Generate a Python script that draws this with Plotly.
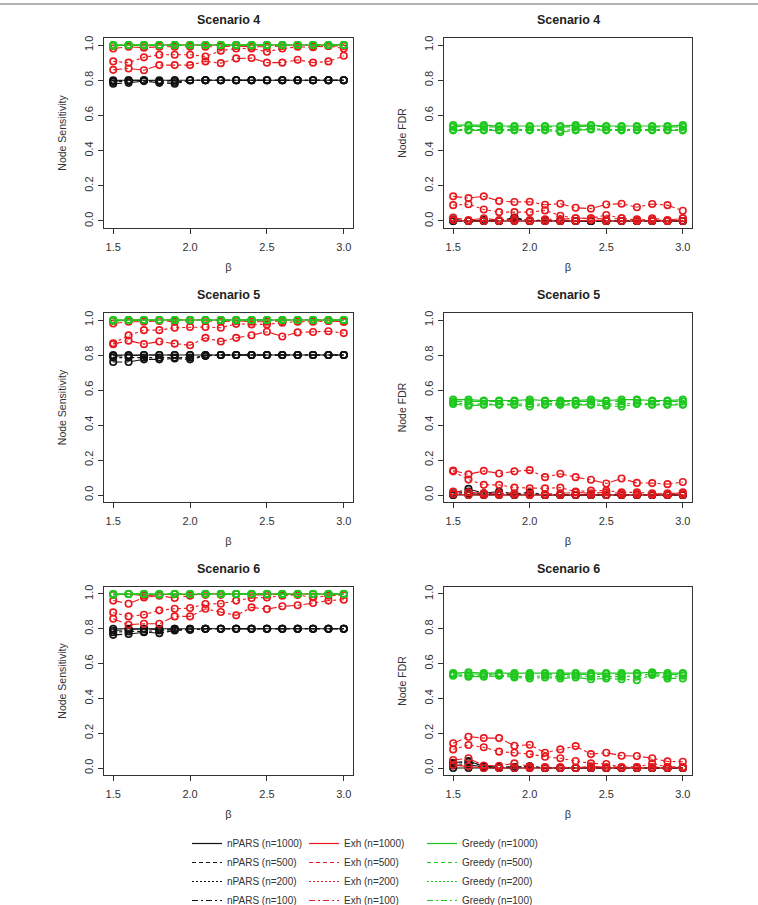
import plotly.graph_objects as go

# ---------------- data ----------------
beta = [1.5, 1.6, 1.7, 1.8, 1.9, 2.0, 2.1, 2.2, 2.3, 2.4, 2.5, 2.6, 2.7, 2.8, 2.9, 3.0]
x_ticks = [1.5, 2.0, 2.5, 3.0]
x_ticktext = ["1.5", "2.0", "2.5", "3.0"]
y_ticks = [0.0, 0.2, 0.4, 0.6, 0.8, 1.0]
y_ticktext = ["0.0", "0.2", "0.4", "0.6", "0.8", "1.0"]
sample_sizes = ["1000", "500", "200", "100"]
methods = ["nPARS", "Exh", "Greedy"]
panel_titles = ["Scenario 4", "Scenario 4", "Scenario 5", "Scenario 5", "Scenario 6", "Scenario 6"]
y_titles = ["Node Sensitivity", "Node FDR"]

# Scenario 4 - Node Sensitivity
s4_sens_npars_1000 = [0.80, 0.80, 0.80, 0.80, 0.80, 0.80, 0.80, 0.80, 0.80, 0.80, 0.80, 0.80, 0.80, 0.80, 0.80, 0.80]
s4_sens_npars_500 = [0.795, 0.80, 0.80, 0.795, 0.80, 0.80, 0.80, 0.80, 0.80, 0.80, 0.80, 0.80, 0.80, 0.80, 0.80, 0.80]
s4_sens_npars_200 = [0.79, 0.795, 0.80, 0.79, 0.79, 0.80, 0.80, 0.80, 0.80, 0.80, 0.80, 0.80, 0.80, 0.80, 0.80, 0.80]
s4_sens_npars_100 = [0.78, 0.785, 0.795, 0.785, 0.78, 0.80, 0.80, 0.80, 0.80, 0.80, 0.80, 0.80, 0.80, 0.80, 0.80, 0.80]
s4_sens_exh_1000 = [0.995, 1.0, 0.995, 1.0, 1.0, 1.0, 1.0, 1.0, 1.0, 1.0, 1.0, 1.0, 1.0, 1.0, 1.0, 1.0]
s4_sens_exh_500 = [0.98, 0.99, 0.985, 0.99, 0.99, 0.99, 0.99, 0.99, 0.995, 0.99, 0.99, 0.995, 0.995, 0.99, 0.995, 0.995]
s4_sens_exh_200 = [0.907, 0.90, 0.93, 0.945, 0.945, 0.945, 0.935, 0.968, 0.98, 0.98, 0.962, 0.98, 0.99, 0.987, 0.995, 0.98]
s4_sens_exh_100 = [0.859, 0.867, 0.857, 0.886, 0.886, 0.886, 0.907, 0.897, 0.924, 0.926, 0.90, 0.90, 0.916, 0.90, 0.907, 0.939]
s4_sens_greedy_1000 = [1.0, 1.0, 1.0, 1.0, 1.0, 1.0, 1.0, 1.0, 1.0, 1.0, 1.0, 1.0, 1.0, 1.0, 1.0, 1.0]
s4_sens_greedy_500 = [1.0, 1.0, 1.0, 1.0, 1.0, 1.0, 1.0, 1.0, 1.0, 1.0, 1.0, 1.0, 1.0, 1.0, 1.0, 1.0]
s4_sens_greedy_200 = [0.998, 1.0, 1.0, 1.0, 1.0, 1.0, 1.0, 1.0, 1.0, 1.0, 1.0, 1.0, 1.0, 1.0, 1.0, 1.0]
s4_sens_greedy_100 = [0.996, 1.0, 0.998, 1.0, 1.0, 1.0, 1.0, 1.0, 1.0, 0.998, 1.0, 1.0, 1.0, 1.0, 1.0, 1.0]

# Scenario 4 - Node FDR
s4_fdr_npars_1000 = [0.0, 0.0, 0.0, 0.0, 0.0, 0.0, 0.0, 0.0, 0.0, 0.0, 0.0, 0.0, 0.0, 0.0, 0.0, 0.0]
s4_fdr_npars_500 = [0.0, 0.0, 0.0, 0.0, 0.01, 0.0, 0.0, 0.0, 0.0, 0.0, 0.0, 0.0, 0.0, 0.0, 0.0, 0.0]
s4_fdr_npars_200 = [0.005, 0.0, 0.0, 0.0, 0.015, 0.0, 0.005, 0.0, 0.0, 0.0, 0.0, 0.0, 0.0, 0.0, 0.0, 0.0]
s4_fdr_npars_100 = [0.01, 0.0, 0.005, 0.0, 0.02, 0.0, 0.005, 0.0, 0.0, 0.0, 0.0, 0.0, 0.0, 0.0, 0.0, 0.0]
s4_fdr_exh_1000 = [0.005, 0.0, 0.0, 0.0, 0.0, 0.0, 0.0, 0.0, 0.0, 0.005, 0.0, 0.0, 0.0, 0.0, 0.0, 0.0]
s4_fdr_exh_500 = [0.02, 0.005, 0.015, 0.005, 0.01, 0.005, 0.01, 0.01, 0.015, 0.015, 0.01, 0.015, 0.01, 0.015, 0.005, 0.015]
s4_fdr_exh_200 = [0.09, 0.095, 0.065, 0.05, 0.05, 0.05, 0.06, 0.03, 0.015, 0.015, 0.034, 0.015, 0.005, 0.01, 0.0, 0.015]
s4_fdr_exh_100 = [0.14, 0.13, 0.14, 0.113, 0.108, 0.109, 0.092, 0.098, 0.075, 0.07, 0.094, 0.098, 0.078, 0.096, 0.09, 0.058]
s4_fdr_greedy_1000 = [0.545, 0.545, 0.545, 0.54, 0.54, 0.54, 0.54, 0.54, 0.545, 0.545, 0.54, 0.54, 0.54, 0.54, 0.54, 0.545]
s4_fdr_greedy_500 = [0.535, 0.54, 0.535, 0.535, 0.535, 0.535, 0.535, 0.535, 0.535, 0.54, 0.535, 0.535, 0.535, 0.535, 0.535, 0.535]
s4_fdr_greedy_200 = [0.52, 0.52, 0.52, 0.52, 0.52, 0.52, 0.52, 0.515, 0.52, 0.525, 0.52, 0.52, 0.52, 0.52, 0.52, 0.52]
s4_fdr_greedy_100 = [0.515, 0.515, 0.515, 0.515, 0.515, 0.515, 0.515, 0.505, 0.515, 0.52, 0.515, 0.515, 0.515, 0.515, 0.515, 0.515]

# Scenario 5 - Node Sensitivity
s5_sens_npars_1000 = [0.80, 0.80, 0.80, 0.80, 0.80, 0.80, 0.80, 0.80, 0.80, 0.80, 0.80, 0.80, 0.80, 0.80, 0.80, 0.80]
s5_sens_npars_500 = [0.795, 0.795, 0.80, 0.80, 0.80, 0.80, 0.80, 0.80, 0.80, 0.80, 0.80, 0.80, 0.80, 0.80, 0.80, 0.80]
s5_sens_npars_200 = [0.785, 0.785, 0.785, 0.785, 0.785, 0.785, 0.795, 0.80, 0.80, 0.80, 0.80, 0.80, 0.80, 0.80, 0.80, 0.80]
s5_sens_npars_100 = [0.76, 0.76, 0.775, 0.775, 0.78, 0.775, 0.795, 0.80, 0.80, 0.80, 0.80, 0.80, 0.80, 0.80, 0.80, 0.80]
s5_sens_exh_1000 = [0.995, 1.0, 1.0, 1.0, 1.0, 1.0, 1.0, 1.0, 1.0, 1.0, 1.0, 1.0, 1.0, 1.0, 1.0, 1.0]
s5_sens_exh_500 = [0.98, 0.99, 0.99, 0.995, 0.99, 0.995, 0.995, 0.99, 0.995, 0.99, 0.99, 0.995, 0.995, 0.995, 0.995, 0.99]
s5_sens_exh_200 = [0.867, 0.912, 0.942, 0.942, 0.956, 0.96, 0.96, 0.956, 0.978, 0.975, 0.975, 0.985, 0.99, 0.99, 0.995, 0.99]
s5_sens_exh_100 = [0.862, 0.882, 0.862, 0.877, 0.865, 0.856, 0.898, 0.877, 0.898, 0.913, 0.933, 0.906, 0.929, 0.931, 0.936, 0.925]
s5_sens_greedy_1000 = [1.0, 1.0, 1.0, 1.0, 1.0, 1.0, 1.0, 1.0, 1.0, 1.0, 1.0, 1.0, 1.0, 1.0, 1.0, 1.0]
s5_sens_greedy_500 = [1.0, 1.0, 1.0, 1.0, 1.0, 1.0, 1.0, 1.0, 1.0, 1.0, 1.0, 1.0, 1.0, 1.0, 1.0, 1.0]
s5_sens_greedy_200 = [0.998, 1.0, 1.0, 1.0, 1.0, 1.0, 1.0, 1.0, 1.0, 1.0, 1.0, 1.0, 1.0, 1.0, 1.0, 1.0]
s5_sens_greedy_100 = [0.996, 0.998, 1.0, 1.0, 1.0, 1.0, 1.0, 1.0, 1.0, 1.0, 1.0, 1.0, 1.0, 1.0, 1.0, 1.0]

# Scenario 5 - Node FDR
s5_fdr_npars_1000 = [0.0, 0.0, 0.0, 0.0, 0.0, 0.0, 0.0, 0.0, 0.0, 0.0, 0.0, 0.0, 0.0, 0.0, 0.0, 0.0]
s5_fdr_npars_500 = [0.0, 0.01, 0.0, 0.005, 0.0, 0.005, 0.0, 0.0, 0.0, 0.0, 0.0, 0.0, 0.0, 0.0, 0.0, 0.0]
s5_fdr_npars_200 = [0.005, 0.02, 0.005, 0.01, 0.0, 0.01, 0.0, 0.0, 0.0, 0.0, 0.0, 0.0, 0.0, 0.0, 0.0, 0.0]
s5_fdr_npars_100 = [0.01, 0.035, 0.01, 0.02, 0.005, 0.015, 0.0, 0.0, 0.0, 0.0, 0.0, 0.0, 0.0, 0.0, 0.0, 0.0]
s5_fdr_exh_1000 = [0.005, 0.0, 0.0, 0.0, 0.0, 0.0, 0.0, 0.0, 0.0, 0.0, 0.0, 0.0, 0.0, 0.0, 0.0, 0.0]
s5_fdr_exh_500 = [0.02, 0.015, 0.01, 0.01, 0.01, 0.005, 0.005, 0.01, 0.015, 0.01, 0.015, 0.01, 0.01, 0.005, 0.01, 0.01]
s5_fdr_exh_200 = [0.135, 0.088, 0.058, 0.058, 0.042, 0.038, 0.038, 0.042, 0.02, 0.025, 0.025, 0.015, 0.015, 0.01, 0.005, 0.015]
s5_fdr_exh_100 = [0.14, 0.118, 0.138, 0.123, 0.135, 0.142, 0.102, 0.121, 0.102, 0.087, 0.066, 0.094, 0.069, 0.068, 0.062, 0.074]
s5_fdr_greedy_1000 = [0.545, 0.545, 0.54, 0.54, 0.54, 0.545, 0.54, 0.54, 0.54, 0.545, 0.54, 0.545, 0.545, 0.54, 0.54, 0.545]
s5_fdr_greedy_500 = [0.535, 0.535, 0.535, 0.535, 0.535, 0.535, 0.535, 0.535, 0.535, 0.535, 0.535, 0.535, 0.54, 0.535, 0.535, 0.535]
s5_fdr_greedy_200 = [0.525, 0.52, 0.52, 0.52, 0.52, 0.52, 0.52, 0.525, 0.52, 0.52, 0.52, 0.52, 0.525, 0.52, 0.52, 0.52]
s5_fdr_greedy_100 = [0.52, 0.51, 0.515, 0.515, 0.515, 0.505, 0.515, 0.515, 0.515, 0.515, 0.51, 0.505, 0.52, 0.515, 0.515, 0.515]

# Scenario 6 - Node Sensitivity
s6_sens_npars_1000 = [0.80, 0.80, 0.80, 0.80, 0.80, 0.80, 0.80, 0.80, 0.80, 0.80, 0.80, 0.80, 0.80, 0.80, 0.80, 0.80]
s6_sens_npars_500 = [0.79, 0.795, 0.80, 0.795, 0.80, 0.80, 0.80, 0.80, 0.80, 0.80, 0.80, 0.80, 0.80, 0.80, 0.80, 0.80]
s6_sens_npars_200 = [0.78, 0.785, 0.785, 0.79, 0.795, 0.795, 0.80, 0.80, 0.80, 0.80, 0.80, 0.80, 0.80, 0.80, 0.80, 0.80]
s6_sens_npars_100 = [0.765, 0.77, 0.78, 0.775, 0.79, 0.795, 0.80, 0.80, 0.80, 0.80, 0.80, 0.80, 0.80, 0.80, 0.80, 0.80]
s6_sens_exh_1000 = [0.995, 1.0, 0.99, 0.995, 1.0, 0.995, 1.0, 1.0, 1.0, 1.0, 1.0, 1.0, 1.0, 1.0, 1.0, 1.0]
s6_sens_exh_500 = [0.962, 0.944, 0.98, 0.99, 0.977, 0.99, 0.995, 0.995, 1.0, 0.995, 0.995, 1.0, 0.995, 0.985, 0.995, 0.995]
s6_sens_exh_200 = [0.894, 0.871, 0.881, 0.906, 0.915, 0.919, 0.942, 0.944, 0.962, 0.977, 0.98, 0.99, 0.995, 0.98, 0.99, 0.995]
s6_sens_exh_100 = [0.858, 0.823, 0.829, 0.829, 0.871, 0.871, 0.915, 0.896, 0.877, 0.923, 0.913, 0.929, 0.935, 0.948, 0.962, 0.967]
s6_sens_greedy_1000 = [1.0, 1.0, 1.0, 1.0, 1.0, 1.0, 1.0, 1.0, 1.0, 1.0, 1.0, 1.0, 1.0, 1.0, 1.0, 1.0]
s6_sens_greedy_500 = [1.0, 1.0, 1.0, 1.0, 1.0, 1.0, 1.0, 1.0, 1.0, 1.0, 1.0, 1.0, 1.0, 1.0, 1.0, 1.0]
s6_sens_greedy_200 = [0.998, 1.0, 1.0, 0.998, 1.0, 1.0, 1.0, 1.0, 1.0, 1.0, 1.0, 1.0, 1.0, 1.0, 1.0, 1.0]
s6_sens_greedy_100 = [0.996, 1.0, 0.998, 0.996, 1.0, 0.998, 1.0, 1.0, 1.0, 1.0, 1.0, 1.0, 1.0, 1.0, 1.0, 1.0]

# Scenario 6 - Node FDR
s6_fdr_npars_1000 = [0.0, 0.0, 0.0, 0.0, 0.0, 0.0, 0.0, 0.0, 0.0, 0.0, 0.0, 0.0, 0.0, 0.0, 0.0, 0.0]
s6_fdr_npars_500 = [0.015, 0.02, 0.005, 0.0, 0.0, 0.005, 0.0, 0.0, 0.0, 0.0, 0.0, 0.0, 0.0, 0.0, 0.0, 0.0]
s6_fdr_npars_200 = [0.025, 0.035, 0.01, 0.005, 0.005, 0.01, 0.0, 0.0, 0.0, 0.0, 0.0, 0.0, 0.0, 0.0, 0.0, 0.0]
s6_fdr_npars_100 = [0.03, 0.04, 0.01, 0.005, 0.005, 0.01, 0.0, 0.0, 0.0, 0.0, 0.0, 0.0, 0.0, 0.0, 0.0, 0.0]
s6_fdr_exh_1000 = [0.017, 0.01, 0.0, 0.0, 0.0, 0.0, 0.0, 0.0, 0.0, 0.0, 0.0, 0.0, 0.0, 0.0, 0.0, 0.0]
s6_fdr_exh_500 = [0.046, 0.056, 0.015, 0.013, 0.027, 0.01, 0.005, 0.005, 0.0, 0.01, 0.005, 0.003, 0.005, 0.005, 0.005, 0.005]
s6_fdr_exh_200 = [0.107, 0.132, 0.119, 0.094, 0.088, 0.08, 0.065, 0.056, 0.04, 0.027, 0.023, 0.005, 0.005, 0.027, 0.005, 0.005]
s6_fdr_exh_100 = [0.142, 0.18, 0.172, 0.172, 0.128, 0.134, 0.088, 0.107, 0.126, 0.08, 0.088, 0.071, 0.069, 0.056, 0.038, 0.036]
s6_fdr_greedy_1000 = [0.545, 0.55, 0.545, 0.545, 0.545, 0.545, 0.545, 0.545, 0.545, 0.545, 0.545, 0.545, 0.545, 0.55, 0.545, 0.545]
s6_fdr_greedy_500 = [0.54, 0.54, 0.54, 0.54, 0.535, 0.535, 0.54, 0.535, 0.54, 0.535, 0.54, 0.535, 0.54, 0.545, 0.535, 0.54]
s6_fdr_greedy_200 = [0.535, 0.53, 0.535, 0.535, 0.525, 0.525, 0.53, 0.525, 0.53, 0.525, 0.525, 0.525, 0.53, 0.54, 0.525, 0.53]
s6_fdr_greedy_100 = [0.53, 0.525, 0.525, 0.53, 0.52, 0.515, 0.52, 0.515, 0.52, 0.51, 0.515, 0.51, 0.505, 0.535, 0.515, 0.515]

panels = [
    [[s4_sens_npars_1000, s4_sens_npars_500, s4_sens_npars_200, s4_sens_npars_100],
     [s4_sens_exh_1000, s4_sens_exh_500, s4_sens_exh_200, s4_sens_exh_100],
     [s4_sens_greedy_1000, s4_sens_greedy_500, s4_sens_greedy_200, s4_sens_greedy_100]],
    [[s4_fdr_npars_1000, s4_fdr_npars_500, s4_fdr_npars_200, s4_fdr_npars_100],
     [s4_fdr_exh_1000, s4_fdr_exh_500, s4_fdr_exh_200, s4_fdr_exh_100],
     [s4_fdr_greedy_1000, s4_fdr_greedy_500, s4_fdr_greedy_200, s4_fdr_greedy_100]],
    [[s5_sens_npars_1000, s5_sens_npars_500, s5_sens_npars_200, s5_sens_npars_100],
     [s5_sens_exh_1000, s5_sens_exh_500, s5_sens_exh_200, s5_sens_exh_100],
     [s5_sens_greedy_1000, s5_sens_greedy_500, s5_sens_greedy_200, s5_sens_greedy_100]],
    [[s5_fdr_npars_1000, s5_fdr_npars_500, s5_fdr_npars_200, s5_fdr_npars_100],
     [s5_fdr_exh_1000, s5_fdr_exh_500, s5_fdr_exh_200, s5_fdr_exh_100],
     [s5_fdr_greedy_1000, s5_fdr_greedy_500, s5_fdr_greedy_200, s5_fdr_greedy_100]],
    [[s6_sens_npars_1000, s6_sens_npars_500, s6_sens_npars_200, s6_sens_npars_100],
     [s6_sens_exh_1000, s6_sens_exh_500, s6_sens_exh_200, s6_sens_exh_100],
     [s6_sens_greedy_1000, s6_sens_greedy_500, s6_sens_greedy_200, s6_sens_greedy_100]],
    [[s6_fdr_npars_1000, s6_fdr_npars_500, s6_fdr_npars_200, s6_fdr_npars_100],
     [s6_fdr_exh_1000, s6_fdr_exh_500, s6_fdr_exh_200, s6_fdr_exh_100],
     [s6_fdr_greedy_1000, s6_fdr_greedy_500, s6_fdr_greedy_200, s6_fdr_greedy_100]],
]

# ---------------- styling ----------------
W, H = 758, 905
FONT = "Liberation Sans, Arial, Helvetica, sans-serif"
TXT = "#333333"
method_colors = ["#111111", "#E8191E", "#1EC81E"]
dashes = ["solid", "dash", "dot", "dashdot"]
legend_dashes = ["solid", "4px,3px", "2px,2px", "6px,3px,2px,3px"]

# box pixel positions (left, right) and (top, bottom)
col_px = [(104, 353), (444, 692)]
row_px = [(38, 228), (313, 502), (587, 775)]


def px_x(p):
    return p / W


def px_y(p):
    return 1 - p / H


fig = go.Figure()

for i, series in enumerate(panels):
    r, c = divmod(i, 2)
    ax = "" if i == 0 else str(i + 1)
    for m, method_series in enumerate(series):
        for k, vals in enumerate(method_series):
            fig.add_trace(go.Scatter(
                x=beta, y=vals, mode="lines+markers",
                xaxis="x" + ax, yaxis="y" + ax,
                line=dict(color=method_colors[m], width=1.1, dash=dashes[k]),
                marker=dict(symbol="circle-open", size=6.5, color=method_colors[m],
                            line=dict(width=1.6, color=method_colors[m])),
                showlegend=False, hoverinfo="skip",
            ))
    xl, xr = col_px[c]
    yt, yb = row_px[r]
    common = dict(showline=True, mirror=True, linecolor=TXT, linewidth=1.3,
                  ticks="outside", ticklen=5, tickwidth=1, tickcolor=TXT,
                  showgrid=False, zeroline=False,
                  tickfont=dict(family=FONT, size=11, color=TXT))
    fig.update_layout(**{
        "xaxis" + ax: dict(domain=[px_x(xl), px_x(xr)], range=[1.44, 3.06],
                           anchor="y" + ax, tickvals=x_ticks, ticktext=x_ticktext,
                           ticklabelstandoff=4,
                           title=dict(text="β", font=dict(family=FONT, size=11, color=TXT), standoff=10),
                           **common),
        "yaxis" + ax: dict(domain=[px_y(yb), px_y(yt)], range=[-0.04, 1.04],
                           anchor="x" + ax, tickvals=y_ticks, ticktext=y_ticktext, tickangle=-90,
                           title=dict(text=y_titles[c], font=dict(family=FONT, size=10.5, color=TXT), standoff=14),
                           **common),
    })
    fig.add_annotation(text="<b>" + panel_titles[i] + "</b>", xref="paper", yref="paper",
                       x=px_x((xl + xr) / 2), y=px_y(yt - 18), xanchor="center", yanchor="middle",
                       showarrow=False, font=dict(family=FONT, size=12.5, color="#222222"))

# legend entries (three legends, one per method)
legend_names = ["legend", "legend2", "legend3"]
legend_x_px = [187, 304, 422]
for m, meth in enumerate(methods):
    for k, n in enumerate(sample_sizes):
        fig.add_trace(go.Scatter(
            x=[None], y=[None], mode="lines", name=f"{meth} (n={n})",
            line=dict(color=method_colors[m], width=1.2, dash=legend_dashes[k]),
            legend=legend_names[m], showlegend=True, hoverinfo="skip",
        ))

leg_common = dict(orientation="v", yanchor="top", xanchor="left", y=px_y(829),
                  font=dict(family=FONT, size=10, color=TXT), bgcolor="rgba(0,0,0,0)",
                  itemwidth=30, tracegroupgap=0, traceorder="normal")
fig.update_layout(
    legend=dict(x=px_x(legend_x_px[0]), **leg_common),
    legend2=dict(x=px_x(legend_x_px[1]), **leg_common),
    legend3=dict(x=px_x(legend_x_px[2]), **leg_common),
)

fig.add_shape(type="line", xref="paper", yref="paper", x0=0, x1=1, y0=px_y(4), y1=px_y(4),
              line=dict(color="#9a9a9a", width=1.5))

fig.update_layout(width=W, height=H, margin=dict(l=0, r=0, t=0, b=0, autoexpand=False),
                  paper_bgcolor="white", plot_bgcolor="white",
                  font=dict(family=FONT, color=TXT))

fig.write_html("out.html", config={"displayModeBar": False})
